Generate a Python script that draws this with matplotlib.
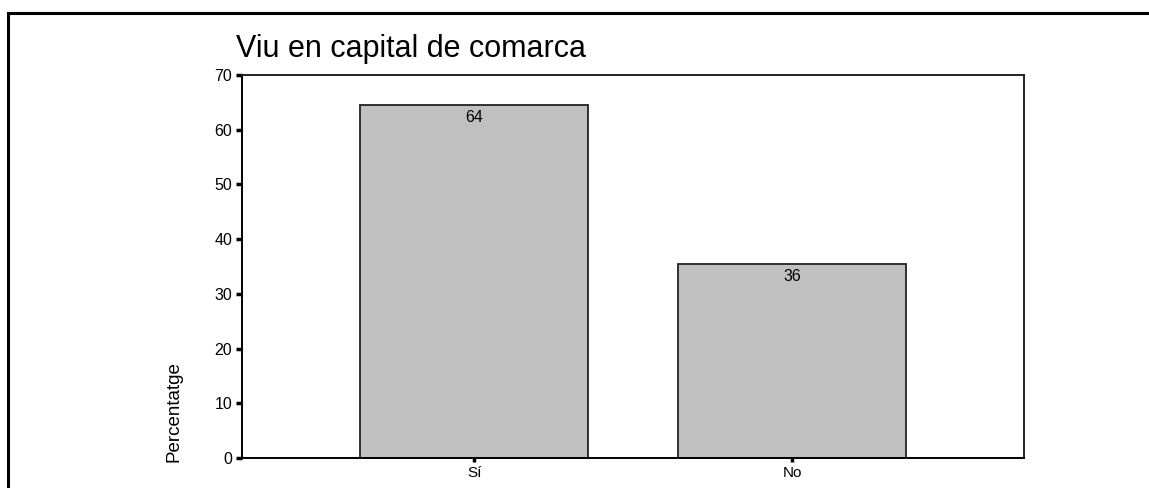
# Bar chart: percentage living in a comarca capital
import matplotlib.pyplot as plt
from matplotlib.lines import Line2D

categories = ['Sí', 'No']
percent = [64.5, 35.5]
bar_labels = ['64', '36']
yticks = [0, 10, 20, 30, 40, 50, 60, 70]

plt.rcParams['font.family'] = ['Liberation Sans', 'DejaVu Sans']

fig = plt.figure(figsize=(11.49, 4.88), dpi=100)
W, H = 1149, 488

# outer frame (only top and left edges are visible)
fig.add_artist(Line2D([8 / W, 1], [1 - 13 / H, 1 - 13 / H], color='black', lw=2.2,
                      transform=fig.transFigure))
fig.add_artist(Line2D([8 / W, 8 / W], [0, 1 - 13 / H], color='black', lw=2.2,
                      transform=fig.transFigure))

ax = fig.add_axes([242 / W, 30 / H, 782 / W, 383 / H])
x = range(len(categories))
bars = ax.bar(x, percent, width=0.717, color='#c0c0c0', edgecolor='#222222', linewidth=1.3)
for b, lab in zip(bars, bar_labels):
    ax.text(b.get_x() + b.get_width() / 2, b.get_height() - 0.9, lab,
            ha='center', va='top', fontsize=11.5)

ax.set_xlim(-0.73, 1.73)
ax.set_ylim(0, 70)
ax.set_xticks(list(x))
ax.set_xticklabels(categories, fontsize=11)
ax.set_yticks(yticks)
ax.set_yticklabels([str(v) for v in yticks], fontsize=11.5)
ax.tick_params(axis='y', length=4, width=2.5, pad=3)
ax.tick_params(axis='x', length=3, width=2.5, pad=3)
for s in ax.spines.values():
    s.set_linewidth(1.4)
    s.set_color('#222222')
ax.spines['left'].set_color('black')
ax.spines['bottom'].set_color('black')

fig.text(236 / W, 1 - 57 / H, 'Viu en capital de comarca', fontsize=22, va='baseline')
fig.text(183 / W, 1 - 462 / H, 'Percentatge', rotation=90, fontsize=13.5,
         ha='right', va='bottom', family=['Liberation Sans Narrow', 'Liberation Sans'])

fig.savefig('out.png', dpi=100)
